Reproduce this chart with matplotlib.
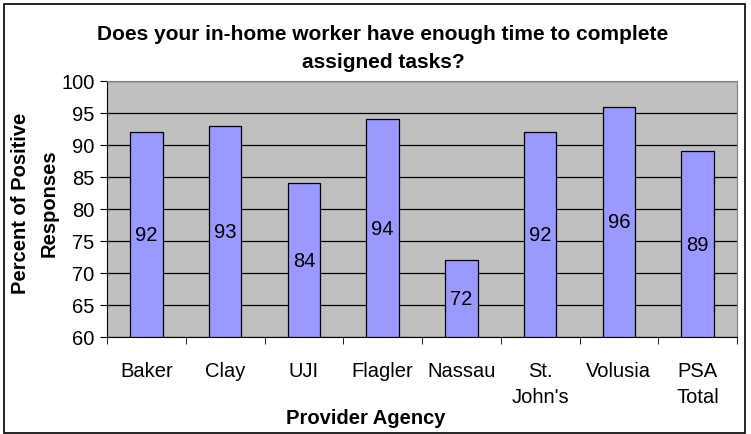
import matplotlib.pyplot as plt
import numpy as np
from matplotlib.patches import Rectangle

plt.rcParams['font.family'] = ['Liberation Sans', 'DejaVu Sans']

agencies = ["Baker", "Clay", "UJI", "Flagler", "Nassau", "St.\nJohn's", "Volusia", "PSA\nTotal"]
positive = [92, 93, 84, 94, 72, 92, 96, 89]
yticks = [60, 65, 70, 75, 80, 85, 90, 95, 100]

fs = 14.5

fig = plt.figure(figsize=(7.51, 4.35), dpi=100)
ax = fig.add_axes([107 / 751, 1 - 338 / 435, 630 / 751, 256 / 435])

x = np.arange(len(agencies))
bars = ax.bar(x, np.array(positive) - 60, 0.41, bottom=60, color="#9999FF",
              edgecolor="black", linewidth=0.9, zorder=3)
for xi, v in zip(x, positive):
    ax.text(xi, (60 + v) / 2, str(v), ha="center", va="center", fontsize=fs, zorder=4)

ax.set_facecolor("#C0C0C0")
ax.set_ylim(60, 100)
ax.set_xlim(-0.5, len(agencies) - 0.5)
ax.set_yticks(yticks)
ax.yaxis.grid(True, color="black", linewidth=0.9, zorder=1)
ax.set_axisbelow(True)

ax.set_xticks(x)
ax.set_xticklabels(agencies, fontsize=fs, linespacing=1.5)
ax.tick_params(axis="x", length=0, pad=17)
ax.set_xticks(np.arange(len(agencies) + 1) - 0.5, minor=True)
ax.tick_params(axis="x", which="minor", length=5, direction="out")
ax.tick_params(axis="y", labelsize=fs, length=5, pad=4)

for s in ["top", "right"]:
    ax.spines[s].set_color("#808080")
for s in ["left", "bottom"]:
    ax.spines[s].set_color("black")

fig.text(383 / 751, 1 - 48 / 435, "Does your in-home worker have enough time to complete\nassigned tasks?",
         ha="center", va="center", fontsize=15, fontweight="bold", linespacing=1.6)
fig.text(35 / 751, 1 - 203 / 435, "Percent of Positive\nResponses", ha="center", va="center",
         rotation=90, fontsize=fs, fontweight="bold", linespacing=1.6)
fig.text(366 / 751, 1 - 419 / 435, "Provider Agency", ha="center", va="center",
         fontsize=fs, fontweight="bold")

fig.patches.append(Rectangle((4 / 751, 1 / 435), 741 / 751, 429 / 435, transform=fig.transFigure,
                             fill=False, edgecolor="black", linewidth=1.2))

fig.savefig("out.png", dpi=100)
